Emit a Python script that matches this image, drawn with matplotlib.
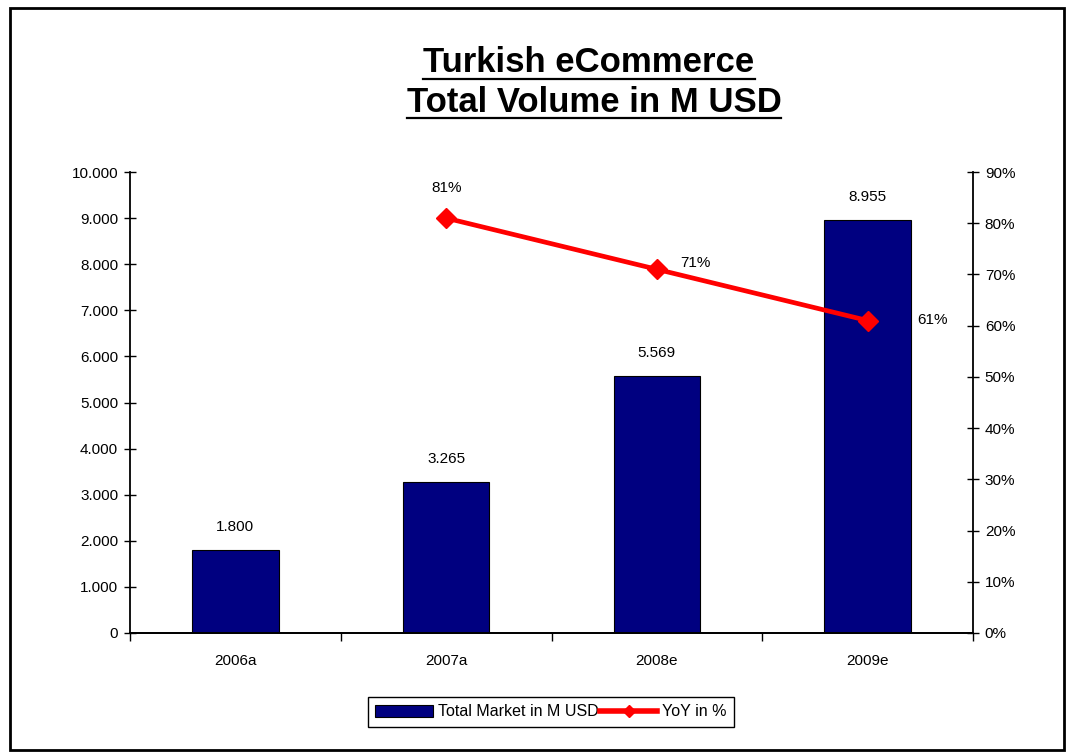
import matplotlib.pyplot as plt
from matplotlib.ticker import FuncFormatter, FixedLocator
from matplotlib.lines import Line2D
from matplotlib.patches import Rectangle

plt.rcParams['font.family'] = ['Liberation Sans', 'DejaVu Sans']

years = ["2006a", "2007a", "2008e", "2009e"]
volume = [1800, 3265, 5569, 8955]
yoy_years = ["2007a", "2008e", "2009e"]
yoy = [81, 71, 61]

fig = plt.figure(figsize=(10.68, 7.54), dpi=100)
ax = fig.add_axes([130 / 1068, 121 / 754, 843 / 1068, 461 / 754])
ax2 = ax.twinx()

x = list(range(len(years)))
ax.bar(x, volume, width=0.41, color="#000080", edgecolor="black", linewidth=0.8, zorder=2)
for xi, v in zip(x, volume):
    ax.text(xi, v + 350, f"{v:,}".replace(",", "."), ha="center", va="bottom", fontsize=11)

xl = [years.index(y) for y in yoy_years]
ax2.plot(xl, yoy, color="red", linewidth=3.4, marker="D", markersize=10, zorder=3)
# first label above the point, the others to the right
ax2.text(xl[0], yoy[0] + 4.5, f"{yoy[0]}%", ha="center", va="bottom", fontsize=11)
ax2.text(xl[1] + 0.11, yoy[1] + 1.3, f"{yoy[1]}%", ha="left", va="center", fontsize=11)
ax2.text(xl[2] + 0.235, yoy[2] + 0.1, f"{yoy[2]}%", ha="left", va="center", fontsize=11)

ax.set_xlim(-0.5, 3.5)
ax.set_ylim(0, 10000)
ax2.set_ylim(0, 90)
ax.set_yticks(range(0, 10001, 1000))
ax.yaxis.set_major_formatter(FuncFormatter(lambda v, p: f"{int(v):,}".replace(",", ".")))
ax2.set_yticks(range(0, 91, 10))
ax2.yaxis.set_major_formatter(FuncFormatter(lambda v, p: f"{int(v)}%"))

# category labels sit between the boundary ticks
ax.xaxis.set_major_locator(FixedLocator([-0.5, 0.5, 1.5, 2.5, 3.5]))
ax.xaxis.set_major_formatter(FuncFormatter(lambda v, p: ""))
ax.xaxis.set_minor_locator(FixedLocator(x))
ax.set_xticklabels(years, minor=True)
ax.tick_params(axis="x", which="major", direction="out", length=6, width=1)
ax.tick_params(axis="x", which="minor", length=0, pad=15, labelsize=11)
ax.tick_params(axis="y", direction="inout", length=9, width=1, labelsize=11, pad=4)
ax2.tick_params(axis="y", direction="inout", length=9, width=1, labelsize=11, pad=4)

for a in (ax, ax2):
    a.spines["top"].set_visible(False)
    a.spines["left"].set_linewidth(1.3)
    a.spines["right"].set_linewidth(1.3)
    a.spines["bottom"].set_linewidth(1.3)
ax2.spines["left"].set_visible(False)
ax.spines["right"].set_visible(False)

# title with underline
t1 = fig.text(589 / 1068, 1 - 63 / 754, "Turkish eCommerce", ha="center", va="center",
              fontsize=25, fontweight="bold")
t2 = fig.text(594 / 1068, 1 - 102 / 754, "Total Volume in M USD", ha="center", va="center",
              fontsize=25, fontweight="bold")
fig.canvas.draw()
r = fig.canvas.get_renderer()
for t in (t1, t2):
    bb = t.get_window_extent(r).transformed(fig.transFigure.inverted())
    yline = bb.y0 + 0.1 * (bb.y1 - bb.y0) - 0.004
    fig.add_artist(Line2D([bb.x0, bb.x1], [yline, yline], color="black", linewidth=1.6,
                          transform=fig.transFigure))

handles = [Rectangle((0, 0), 1, 1, facecolor="#000080", edgecolor="black", linewidth=0.8),
           Line2D([], [], color="red", linewidth=4, marker="D", markersize=6)]
fig.legend(handles, ["Total Market in M USD", "YoY in %"], loc="center",
           bbox_to_anchor=(551 / 1068, 1 - 712 / 754), ncol=2, fontsize=11.5,
           frameon=True, fancybox=False, edgecolor="black", framealpha=1,
           handlelength=3.6, handletextpad=0.3, columnspacing=0.1, borderpad=0.45)

# outer frame of the page
fig.add_artist(Rectangle((10 / 1068, 4 / 754), 1054 / 1068, 742 / 754, fill=False,
                         edgecolor="black", linewidth=2, transform=fig.transFigure))

fig.savefig("out.png", dpi=100)
